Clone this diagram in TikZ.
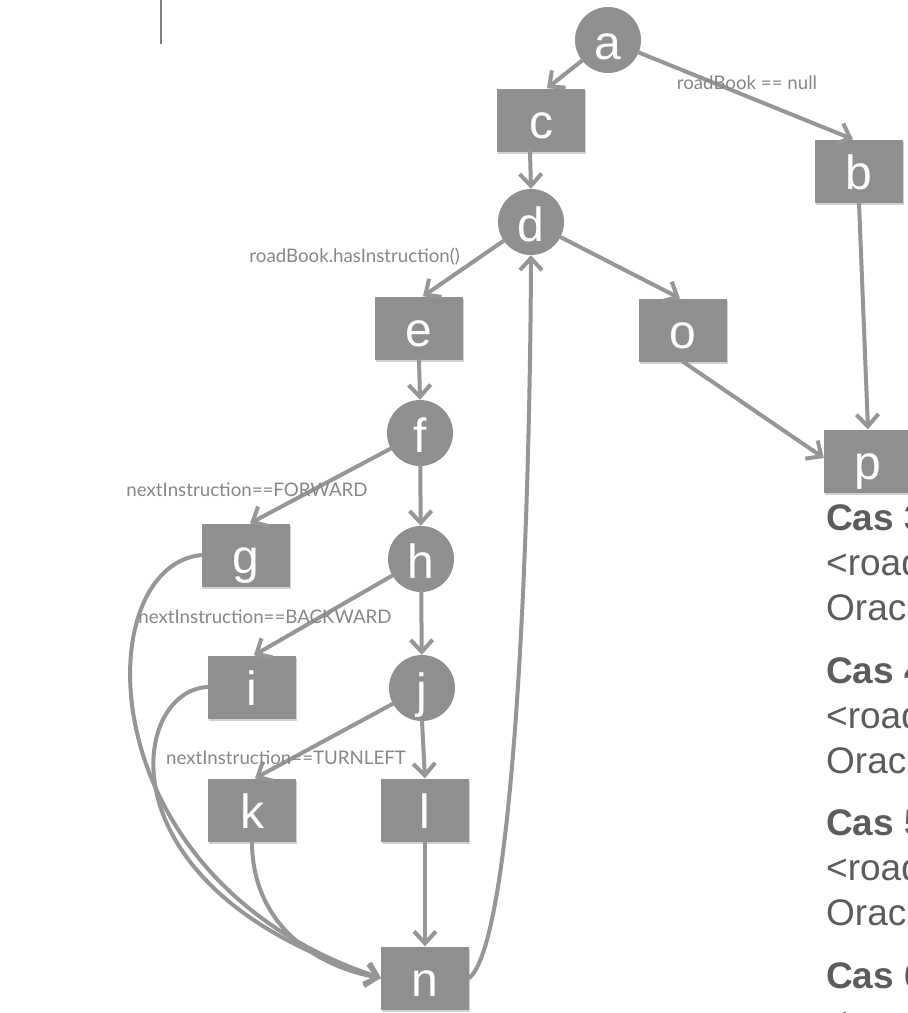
\documentclass[tikz,border=0pt]{standalone}
\usepackage{fontspec}
\setmainfont{Liberation Sans}
\newfontfamily\labelfont{Lato}
\usetikzlibrary{arrows.meta,shadows}
\definecolor{nodegray}{RGB}{143,143,143}
\definecolor{edgegray}{RGB}{150,150,150}
\definecolor{labelgray}{RGB}{135,135,135}
\definecolor{textgray}{RGB}{92,92,92}
\begin{document}
\begin{tikzpicture}[x=1pt,y=-1pt,
  boxnode/.style={rectangle, fill=nodegray, minimum width=88pt, minimum height=63pt,
    inner sep=0pt, text=white, text height=37pt, text depth=0pt,
    font=\fontsize{48}{48}\selectfont,
    drop shadow={shadow xshift=0.5pt, shadow yshift=-2pt, opacity=0.18, fill=black}},
  circnode/.style={circle, fill=nodegray, minimum size=66pt, inner sep=0pt,
    text=white, text height=38pt, text depth=0pt, font=\fontsize{48}{48}\selectfont},
  edge/.style={draw=edgegray, line width=4pt, line cap=round, line join=round,
    -{Straight Barb[length=12pt, width=22pt]}},
  edgelabel/.style={text=labelgray, inner sep=0pt, font=\labelfont\fontsize{18.7}{18.7}\selectfont},
  castext/.style={text=textgray, anchor=base west, inner sep=0pt, font=\fontsize{37}{37}\selectfont},
  sideline/.style={draw=gray, line width=2pt}
]
\useasboundingbox (0,0) rectangle (908,1013);
\fill[white] (0,0) rectangle (908,1013);

% left marker line
\coordinate (ltop) at (161,0);
\coordinate (lbot) at (161,44);
\draw[sideline] (ltop) -- (lbot);

\path (608,40) coordinate (pa)
      (541,120) coordinate (pc)
      (859,171) coordinate (pb)
      (531,222) coordinate (pd)
      (419,328) coordinate (pe)
      (683,330) coordinate (po)
      (868,461) coordinate (pp)
      (420,433) coordinate (pf)
      (246,555) coordinate (pg)
      (421,559) coordinate (ph)
      (252,687) coordinate (pi)
      (422,688) coordinate (pj)
      (252,810) coordinate (pk)
      (425,810) coordinate (pl)
      (425,978) coordinate (pn);

% nodes
\node[circnode] (a) at (pa) {a};
\node[boxnode] (c) at (pc) {c};
\node[boxnode] (b) at (pb) {b};
\node[circnode] (d) at (pd) {d};
\node[boxnode] (e) at (pe) {e};
\node[boxnode] (o) at (po) {o};
\node[boxnode] (p) at (pp) {p};
\node[circnode] (f) at (pf) {f};
\node[boxnode] (g) at (pg) {g};
\node[circnode] (h) at (ph) {h};
\node[boxnode] (i) at (pi) {i};
\node[circnode] (j) at (pj) {j};
\node[boxnode] (k) at (pk) {k};
\node[boxnode] (l) at (pl) {l};
\node[boxnode] (n) at (pn) {n};

% connectors
\draw[edge] (a) -- ([xshift=6pt]c.north);
\draw[edge] (a) -- ([xshift=-6pt]b.north);
\draw[edge] ([xshift=-11pt]c.south) -- (d.north);
\draw[edge] (b.south) -- (p.north);
\draw[edge] (d) -- ([xshift=4pt]e.north);
\draw[edge] (d) -- ([xshift=-3pt]o.north);
\draw[edge] (o.south) -- ([yshift=3pt]p.west);
\draw[edge] (e.south) -- (f.north);
\draw[edge] (f) -- ([xshift=4pt]g.north);
\draw[edge] (f) -- (h);
\draw[edge] (h) -- ([xshift=2pt]i.north);
\draw[edge] (h) -- (j);
\draw[edge] (j) -- ([xshift=3pt]k.north);
\draw[edge] (j.south) -- (l.north);
\draw[edge] (l.south) -- (n.north);
\draw[edge] (g.west) .. controls (88,565) and (85,880) .. (n.west);
\draw[edge] (i.west) .. controls (130,690) and (98,890) .. (n.west);
\draw[edge] (k.south) .. controls (252,920) and (310,965) .. (n.west);
\draw[edge] (n.east) .. controls (515,940) and (530,520) .. (d.south);

% edge labels
\node[edgelabel] (lnull) at (747,83) {roadBook == null};
\node[edgelabel, anchor=east] (lhas) at (460,257) {roadBook.hasInstruction()};
\node[edgelabel] (lfwd) at (247,490) {nextInstruction==FORWARD};
\node[edgelabel] (lbwd) at (265,617) {nextInstruction==BACKWARD};
\node[edgelabel] (ltl) at (286,758) {nextInstruction==TURNLEFT};

% right-hand text, cut by the page edge as in the reference
\node[castext] (c3) at (826,530) {\bfseries Cas 3};
\node[castext] (r3) at (826,575) {<road};
\node[castext] (o3) at (826,620) {Orac};
\node[castext] (c4) at (826,683) {\bfseries Cas 4};
\node[castext] (r4) at (826,728) {<road};
\node[castext] (o4) at (826,773) {Orac};
\node[castext] (c5) at (826,835) {\bfseries Cas 5};
\node[castext] (r5) at (826,880) {<road};
\node[castext] (o5) at (826,925) {Orac};
\node[castext] (c6) at (826,988) {\bfseries Cas 6};
\node[castext] (r6) at (826,1033) {<road};
\end{tikzpicture}
\end{document}
